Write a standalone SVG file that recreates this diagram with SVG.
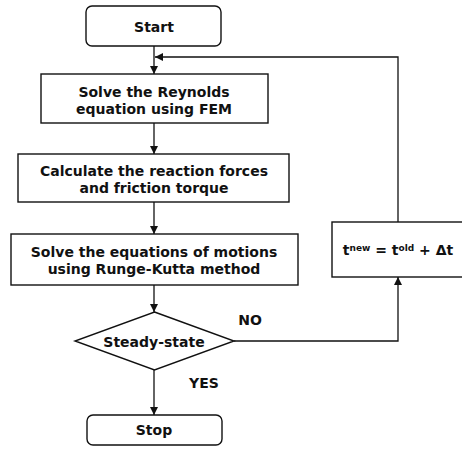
<svg xmlns="http://www.w3.org/2000/svg" width="462" height="456" viewBox="0 0 462 456">
<defs>
<marker id="ah" viewBox="0 0 10 10" refX="10" refY="5" markerWidth="8" markerHeight="8" markerUnits="userSpaceOnUse" orient="auto">
<path d="M0,0 L10,5 L0,10 z" fill="#111"/>
</marker>
<style>
.box{fill:#fff;stroke:#111;stroke-width:1.4}
.ln{fill:none;stroke:#111;stroke-width:1.3;marker-end:url(#ah)}
text{font-family:"DejaVu Sans",Verdana,sans-serif;font-weight:bold;font-size:14px;fill:#111;text-anchor:middle}
.sup{font-size:9px}
</style>
</defs>
<rect width="462" height="456" fill="#fff"/>
<g id="connectors">
<path class="ln" d="M154,46 V74"/>
<path class="ln" d="M398,222 V57 H155"/>
<path class="ln" d="M154,123 V154"/>
<path class="ln" d="M154,202 V234"/>
<path class="ln" d="M154,285 V312"/>
<path class="ln" d="M154,370 V415"/>
<path class="ln" d="M234,341 H398 V277"/>
</g>
<g id="start">
<rect class="box" x="86" y="6" width="135" height="40" rx="6"/>
<text x="154" y="32">Start</text>
</g>
<g id="reynolds">
<rect class="box" x="41" y="74" width="227" height="49"/>
<text x="154" y="97">Solve the Reynolds</text>
<text x="154" y="114">equation using FEM</text>
</g>
<g id="forces">
<rect class="box" x="18" y="154" width="271" height="48"/>
<text x="154" y="176">Calculate the reaction forces</text>
<text x="154" y="193">and friction torque</text>
</g>
<g id="motions">
<rect class="box" x="11" y="234" width="287" height="51"/>
<text x="154" y="257">Solve the equations of motions</text>
<text x="154" y="274">using Runge-Kutta method</text>
</g>
<g id="steady">
<polygon class="box" points="154.5,312 234,341 154.5,370 75,341"/>
<text x="154" y="347">Steady-state</text>
</g>
<g id="stop">
<rect class="box" x="87" y="415" width="135" height="30" rx="6"/>
<text x="154" y="435">Stop</text>
</g>
<g id="update">
<rect class="box" x="332" y="222" width="132" height="55"/>
<text x="398" y="255">t<tspan class="sup" dy="-4">new</tspan><tspan dy="4"> = t</tspan><tspan class="sup" dy="-4">old</tspan><tspan dy="4"> + Δt</tspan></text>
</g>
<g id="labels">
<text x="250" y="325">NO</text>
<text x="204" y="388">YES</text>
</g>
</svg>
